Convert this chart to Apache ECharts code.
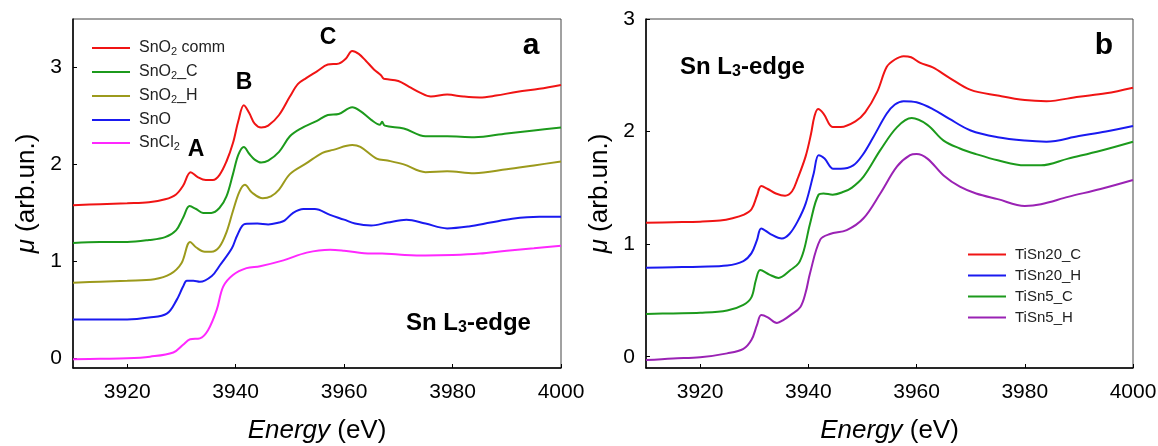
<!DOCTYPE html>
<html>
<head>
<meta charset="utf-8">
<script src="https://cdn.jsdelivr.net/npm/echarts@6.0.0/dist/echarts.min.js"></script>
<style>
  html, body { margin: 0; padding: 0; background: #fff; }
  #xanes_chart { width: 1158px; height: 446px; }
</style>
</head>
<body>
<div id="xanes_chart"></div>
<script>
// tick labels
var energyTicks = [3920, 3940, 3960, 3980, 4000];
var muTicks = [0, 1, 2, 3];

// panel a: reference compounds [energy (eV), mu]
var snO2Comm = [[3910,1.58],[3915,1.59],[3920,1.60],[3924,1.61],[3927,1.64],[3929,1.69],[3930.3,1.78],[3931.7,1.92],[3933,1.87],[3934.5,1.84],[3935.8,1.84],[3937,1.89],[3938.3,2.03],[3939.5,2.22],[3940.5,2.45],[3941.5,2.61],[3942.5,2.53],[3943.5,2.42],[3944.7,2.38],[3946,2.40],[3948,2.51],[3950,2.70],[3951.5,2.83],[3953,2.89],[3955,2.96],[3957,3.03],[3959,3.04],[3960.3,3.09],[3961.5,3.17],[3962.7,3.14],[3964,3.07],[3965.5,2.98],[3966.8,2.92],[3967.2,2.89],[3967.6,2.88],[3970,2.86],[3972,2.80],[3974,2.74],[3976,2.70],[3979,2.72],[3982,2.70],[3985,2.69],[3988,2.71],[3992,2.75],[3996,2.78],[4000,2.82]];
var snO2C = [[3910,1.19],[3915,1.20],[3920,1.20],[3924,1.22],[3927,1.25],[3929,1.32],[3930.3,1.45],[3931.5,1.57],[3932.7,1.54],[3934,1.50],[3935.5,1.50],[3937,1.55],[3938.3,1.67],[3939.5,1.90],[3940.5,2.10],[3941.5,2.18],[3942.5,2.11],[3943.5,2.05],[3944.7,2.02],[3946,2.04],[3948,2.13],[3950,2.29],[3952,2.37],[3955,2.45],[3957,2.51],[3959,2.52],[3961.5,2.59],[3963,2.55],[3965,2.46],[3966.6,2.41],[3967,2.44],[3967.5,2.40],[3971,2.37],[3975,2.29],[3979,2.29],[3984,2.28],[3990,2.32],[3995,2.35],[4000,2.38]];
var snO2H = [[3910,0.78],[3915,0.79],[3920,0.80],[3925,0.815],[3928,0.87],[3930,0.98],[3931.6,1.20],[3932.8,1.14],[3934.3,1.10],[3935.5,1.10],[3937,1.15],[3938.3,1.30],[3939.5,1.52],[3940.7,1.72],[3941.7,1.79],[3943,1.71],[3945,1.65],[3946.5,1.67],[3948,1.74],[3950,1.90],[3953,2.01],[3956,2.12],[3958,2.15],[3961.5,2.20],[3963,2.18],[3966,2.06],[3968,2.04],[3971,2.00],[3975,1.92],[3979,1.93],[3984,1.91],[3990,1.95],[3995,1.99],[4000,2.03]];
var snO = [[3910,0.40],[3915,0.40],[3920,0.40],[3924,0.42],[3927.3,0.46],[3929.1,0.60],[3930.3,0.74],[3931,0.80],[3932.2,0.80],[3933.4,0.79],[3935.6,0.85],[3937.1,0.96],[3939.3,1.135],[3940.3,1.27],[3941.7,1.386],[3944,1.39],[3946,1.38],[3948,1.40],[3949,1.42],[3950.6,1.50],[3952.5,1.54],[3954.6,1.54],[3957.4,1.48],[3960,1.43],[3962,1.39],[3965,1.37],[3968,1.40],[3971.5,1.43],[3975,1.39],[3979,1.34],[3983,1.36],[3987,1.40],[3991,1.44],[3996,1.46],[4000,1.46]];
var snCl2 = [[3910,-0.01],[3915,-0.005],[3920,0.0],[3924.2,0.017],[3928.5,0.06],[3930.3,0.14],[3931.6,0.196],[3933.4,0.206],[3934.9,0.29],[3936.5,0.50],[3937.7,0.74],[3939.5,0.86],[3942,0.93],[3944.5,0.95],[3948.8,1.01],[3953.1,1.09],[3957.4,1.12],[3960,1.11],[3965,1.08],[3967,1.08],[3970,1.07],[3975,1.06],[3980,1.065],[3985,1.08],[3990,1.11],[3995,1.135],[4000,1.16]];

// panel b: TiO2-SnO2 samples
var tiSn20C = [[3910,1.19],[3915,1.195],[3920,1.20],[3923.7,1.21],[3926,1.23],[3928,1.26],[3929.5,1.31],[3930.5,1.43],[3931.3,1.516],[3932.5,1.49],[3934,1.45],[3935.7,1.43],[3937,1.47],[3938,1.58],[3939.5,1.78],[3940.5,1.98],[3941.1,2.13],[3941.8,2.20],[3942.8,2.16],[3944.5,2.04],[3946,2.04],[3948.7,2.09],[3950.5,2.17],[3952.7,2.35],[3954.5,2.575],[3956,2.64],[3957.6,2.67],[3959,2.66],[3960.7,2.61],[3963,2.57],[3966,2.48],[3970,2.37],[3975,2.32],[3980,2.28],[3984,2.27],[3990,2.31],[3995,2.34],[4000,2.39]];
var tiSn20H = [[3910,0.79],[3915,0.795],[3920,0.80],[3925,0.81],[3928,0.85],[3929.5,0.92],[3930.5,1.035],[3931.3,1.14],[3933,1.09],[3935.1,1.05],[3936.5,1.09],[3938,1.20],[3939.5,1.36],[3941,1.63],[3941.9,1.79],[3943,1.76],[3944.6,1.67],[3946,1.67],[3948.3,1.70],[3950,1.79],[3952,1.95],[3954.5,2.16],[3956,2.24],[3957.6,2.27],[3960,2.26],[3963,2.20],[3966,2.115],[3970,2.01],[3975,1.95],[3980,1.92],[3984,1.91],[3990,1.96],[3995,2.00],[4000,2.05]];
var tiSn5C = [[3910,0.38],[3915,0.385],[3920,0.39],[3925,0.41],[3928,0.46],[3929.5,0.53],[3930.3,0.68],[3931.1,0.77],[3932.8,0.73],[3934.5,0.70],[3936.7,0.77],[3938.2,0.83],[3939.2,0.95],[3940.3,1.18],[3941.9,1.44],[3942.8,1.45],[3944.5,1.44],[3946.5,1.465],[3948,1.50],[3950.2,1.60],[3953.3,1.835],[3956.4,2.04],[3959.1,2.12],[3962,2.06],[3965,1.92],[3968,1.85],[3971,1.80],[3975,1.745],[3980,1.70],[3983,1.70],[3988,1.76],[3994,1.83],[4000,1.91]];
var tiSn5H = [[3910,-0.03],[3915,-0.015],[3920,-0.005],[3925,0.03],[3928,0.07],[3929.5,0.15],[3930.5,0.28],[3931.3,0.37],[3932.5,0.35],[3934.2,0.30],[3935.5,0.33],[3936.7,0.37],[3938.5,0.44],[3939.5,0.57],[3940.3,0.74],[3942.2,1.04],[3944,1.09],[3947.1,1.125],[3950.2,1.23],[3953.3,1.45],[3956.4,1.69],[3958.8,1.79],[3960,1.80],[3962,1.76],[3965,1.61],[3968,1.51],[3971,1.45],[3975,1.40],[3980,1.34],[3983,1.355],[3988,1.42],[3994,1.49],[4000,1.57]];

var FONT = 'Liberation Sans, Arial, sans-serif';

var chart = echarts.init(document.getElementById('xanes_chart'));

function xAxisFor(grid) {
    return {
        type: 'value', gridIndex: grid, min: 3910, max: 4000,
        name: '{i|Energy} (eV)', nameLocation: 'middle', nameGap: 50,
        nameTextStyle: { fontFamily: FONT, fontSize: 26, color: '#000',
            rich: { i: { fontFamily: FONT, fontSize: 26, fontStyle: 'italic', color: '#000' } } },
        axisLine: { onZero: false, lineStyle: { color: '#000', width: 1.5 } },
        axisTick: { inside: true, length: 4, customValues: energyTicks, lineStyle: { color: '#000' } },
        axisLabel: { customValues: energyTicks, fontFamily: FONT, fontSize: 21, color: '#000', margin: 14,
            formatter: function (v) { return String(v); } },
        splitLine: { show: false }
    };
}

function yAxisFor(grid, max) {
    return {
        type: 'value', gridIndex: grid, min: -0.1, max: max,
        name: '{i|μ} (arb.un.)', nameLocation: 'middle', nameGap: 33,
        nameTextStyle: { fontFamily: FONT, fontSize: 26, color: '#000',
            rich: { i: { fontFamily: FONT, fontSize: 26, fontStyle: 'italic', color: '#000' } } },
        axisLine: { onZero: false, lineStyle: { color: '#000', width: 1.5 } },
        axisTick: { inside: true, length: 4, customValues: muTicks, lineStyle: { color: '#000' } },
        axisLabel: { customValues: muTicks, fontFamily: FONT, fontSize: 21, color: '#000', margin: 11,
            formatter: function (v) { return String(v); } },
        splitLine: { show: false }
    };
}

function line(name, data, color, grid) {
    return {
        name: name, type: 'line', data: data,
        xAxisIndex: grid, yAxisIndex: grid,
        showSymbol: false, symbol: 'none', smooth: 0.35,
        lineStyle: { color: color, width: 2 }, itemStyle: { color: color }
    };
}

// subscript digits drawn smaller and lower
var legendRich = {
    n: { fontFamily: FONT, fontSize: 16, lineHeight: 18, color: '#222' },
    s: { fontFamily: FONT, fontSize: 11, lineHeight: 11, verticalAlign: 'bottom', color: '#222' }
};
var labelRich = {
    b: { fontFamily: FONT, fontSize: 24, fontWeight: 'bold', lineHeight: 26, color: '#000' },
    s: { fontFamily: FONT, fontSize: 16, fontWeight: 'bold', lineHeight: 16, verticalAlign: 'bottom', color: '#000' }
};
var legendNames = {
    'SnO2 comm': '{n|SnO}{s|2}{n| comm}',
    'SnO2_C': '{n|SnO}{s|2}{n|_C}',
    'SnO2_H': '{n|SnO}{s|2}{n|_H}',
    'SnO': '{n|SnO}',
    'SnCl2': '{n|SnCl}{s|2}'
};

function bigText(x, y, text, size) {
    return { type: 'text', x: x, y: y, silent: true,
        style: { text: text, fontFamily: FONT, fontSize: size, fontWeight: 'bold', fill: '#000',
            align: 'center', verticalAlign: 'middle' } };
}
function edgeText(x, y) {
    return { type: 'text', x: x, y: y, silent: true,
        style: { text: '{b|Sn L}{s|3}{b|-edge}', rich: labelRich, align: 'left', verticalAlign: 'middle' } };
}

var option = {
    animation: false,
    grid: [
        { left: 73, top: 19, width: 488, height: 349, outerBoundsMode: 'none',
          show: true, borderColor: '#444', borderWidth: 1 },
        { left: 646, top: 19, width: 487, height: 349, outerBoundsMode: 'none',
          show: true, borderColor: '#444', borderWidth: 1 }
    ],
    xAxis: [xAxisFor(0), xAxisFor(1)],
    yAxis: [yAxisFor(0, 3.5), yAxisFor(1, 3)],
    legend: [
        {
            data: ['SnO2 comm', 'SnO2_C', 'SnO2_H', 'SnO', 'SnCl2'],
            orient: 'vertical', left: 92, top: 40, icon: 'rect', itemWidth: 38, itemHeight: 2, itemGap: 7,
            padding: 0,
            formatter: function (n) { return legendNames[n]; },
            textStyle: { fontFamily: FONT, fontSize: 16, color: '#222', padding: [0, 0, 0, 4], rich: legendRich }
        },
        {
            data: ['TiSn20_C', 'TiSn20_H', 'TiSn5_C', 'TiSn5_H'],
            orient: 'vertical', left: 968, top: 246, icon: 'rect', itemWidth: 38, itemHeight: 2, itemGap: 4,
            padding: 0,
            textStyle: { fontFamily: FONT, fontSize: 15, color: '#222', padding: [0, 0, 0, 4], lineHeight: 17 }
        }
    ],
    series: [
        line('SnO2 comm', snO2Comm, '#f01414', 0),
        line('SnO2_C', snO2C, '#1c9a1c', 0),
        line('SnO2_H', snO2H, '#9c9a1c', 0),
        line('SnO', snO, '#1a1af0', 0),
        line('SnCl2', snCl2, '#ff28ff', 0),
        line('TiSn20_C', tiSn20C, '#f01414', 1),
        line('TiSn20_H', tiSn20H, '#1a1af0', 1),
        line('TiSn5_C', tiSn5C, '#1c9a1c', 1),
        line('TiSn5_H', tiSn5H, '#9a22b4', 1)
    ],
    graphic: [
        bigText(196, 150, 'A', 23),
        bigText(244, 83, 'B', 23),
        bigText(328, 38, 'C', 23),
        bigText(531, 46, 'a', 30),
        bigText(1104, 46, 'b', 30),
        edgeText(406, 323),
        edgeText(680, 67)
    ]
};

chart.setOption(option);
</script>
</body>
</html>
